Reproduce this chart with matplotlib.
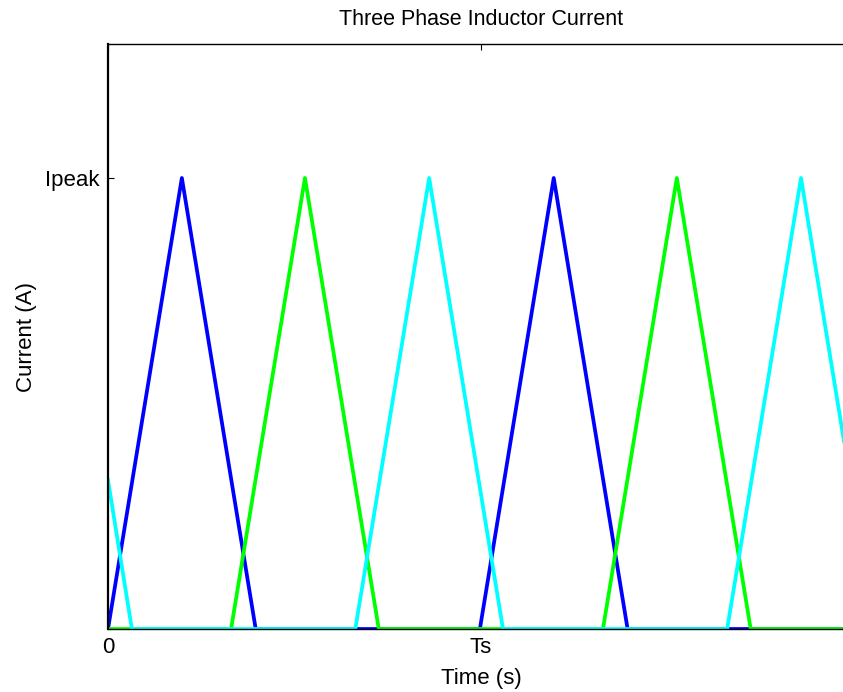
import numpy as np
import matplotlib.pyplot as plt

plt.rcParams['font.family'] = ['Liberation Sans', 'DejaVu Sans']

# Switching period and peak current (normalised)
Ts = 1.0
Ipeak = 1.0

# Vertex times (in units of Ts) and currents (in units of Ipeak) for each phase
t_a = [0.0, 0.198, 0.396, 0.997, 1.195, 1.393, 2.0]
i_a = [0.0, 1.0, 0.0, 0.0, 1.0, 0.0, 0.0]

t_b = [0.0, 0.330, 0.528, 0.726, 1.327, 1.525, 1.723, 2.0]
i_b = [0.0, 0.0, 1.0, 0.0, 0.0, 1.0, 0.0, 0.0]

t_c = [0.0, 0.064, 0.663, 0.861, 1.059, 1.660, 1.858, 2.0]
i_c = [0.33, 0.0, 0.0, 1.0, 0.0, 0.0, 1.0, 0.28]

fig = plt.figure(figsize=(8.43, 6.92), dpi=100)
ax = fig.add_axes([108 / 843, 63 / 692, 746 / 843, 585 / 692])

ax.plot(np.array(t_a) * Ts, np.array(i_a) * Ipeak, color='#0000FF', lw=2.7)
ax.plot(np.array(t_b) * Ts, np.array(i_b) * Ipeak, color='#00FF00', lw=2.7)
ax.plot(np.array(t_c) * Ts, np.array(i_c) * Ipeak, color='#00FFFF', lw=2.7)

ax.set_xlim(0, 2 * Ts)
ax.set_ylim(0, 1.297 * Ipeak)
ax.set_xticks([0, Ts])
ax.set_xticklabels(['0', 'Ts'])
ax.set_yticks([Ipeak])
ax.set_yticklabels(['Ipeak'])
ax.tick_params(direction='in', length=4, width=0.8, top=True, right=True,
               labelsize=16, pad=6)

for s in ax.spines.values():
    s.set_linewidth(1.0)
ax.spines['left'].set_linewidth(1.6)

ax.set_xlabel('Time (s)', fontsize=16, labelpad=7)
ax.set_ylabel('Current (A)', fontsize=16, labelpad=6)
ax.set_title('Three Phase Inductor Current', fontsize=15.5, pad=14)

fig.savefig('out.png', dpi=100)
